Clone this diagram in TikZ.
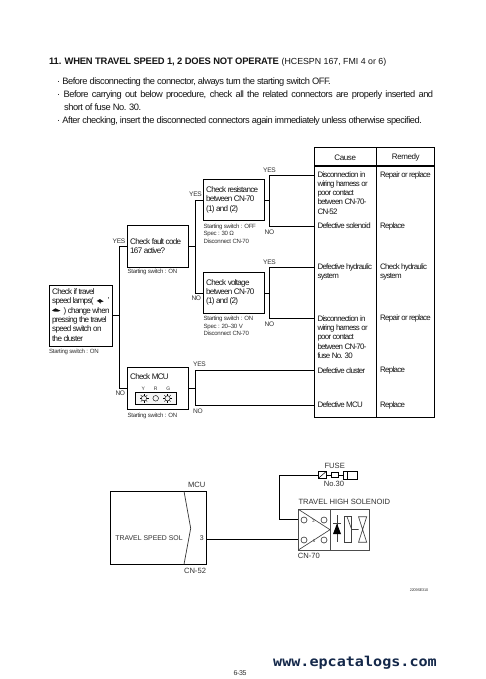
\documentclass[tikz,border=0pt]{standalone}
\usepackage{fontspec}
\setmainfont{Liberation Sans}
\newfontfamily\tightf[LetterSpace=-5]{Liberation Sans}
\newfontfamily\tighterf[LetterSpace=-9]{Liberation Sans}
\newfontfamily\headf[LetterSpace=-2]{Liberation Sans}
\newfontfamily\wwwf[FakeStretch=1.11]{DejaVu Sans Mono}
\definecolor{ink}{HTML}{141414}
\definecolor{soft}{HTML}{303030}
\definecolor{wwwc}{HTML}{14284A}
\tikzset{
  x=1pt,y=-1pt,
  flowbox/.style={draw=black,line width=0.8pt,fill=white},
  wire/.style={draw=black,line width=0.75pt},
  boxtext/.style={anchor=north west,inner sep=0pt,align=left,text=ink,font=\tighterf\fontsize{8.1}{9.4}\selectfont},
  small/.style={anchor=north west,inner sep=0pt,align=left,text=soft,font=\tightf\fontsize{6.1}{7.5}\selectfont},
  yn/.style={inner sep=0pt,text=soft,font=\tightf\fontsize{6.6}{7}\selectfont},
  cell/.style={anchor=north west,inner sep=0pt,align=left,text=ink,font=\tighterf\fontsize{7.9}{9.25}\selectfont},
  hdr/.style={inner sep=0pt,text=ink,font=\tightf\fontsize{8}{9}\selectfont},
  para/.style={anchor=west,inner sep=0pt,text=ink,font=\tightf\fontsize{9.3}{11}\selectfont},
  wlabel/.style={inner sep=0pt,text=soft,font=\fontsize{7.6}{9}\selectfont},
  gline/.style={draw=black!70,line width=0.8pt},
  sym/.style={draw=black!75,line width=0.65pt},
  lamp/.style={draw=black,line width=0.45pt},
}
\begin{document}
\begin{tikzpicture}
\useasboundingbox[fill=white] (0,0) rectangle (486,679);

% heading
\node[anchor=west,inner sep=0pt,text=ink] (title) at (49,61.7) {{\headf\bfseries\fontsize{9.4}{11}\selectfont 11. WHEN TRAVEL SPEED 1, 2 DOES NOT OPERATE} {\fontsize{8.8}{11}\selectfont (HCESPN 167, FMI 4 or 6)}};
\node[para] (p1) at (57,81.7) {· Before disconnecting the connector, always turn the starting switch OFF.};
\node[para] (p2) at (57,95) {\makebox[376pt][s]{· Before carrying out below procedure, check all the related connectors are properly inserted and}};
\node[para] (p3) at (64,107.3) {short of fuse No. 30.};
\node[para] (p4) at (57,121) {· After checking, insert the disconnected connectors again immediately unless otherwise specified.};

% table
\coordinate (tl) at (314.3,147.3);
\coordinate (tr) at (434.3,417.3);
\draw[flowbox,fill=none] (tl) rectangle (tr);
\draw[wire,line width=0.8pt] (376.3,147.3) -- (376.3,417.3);
\draw[draw=black,line width=1.5pt] (314.3,166) -- (434.3,166);
\node[hdr] (hcause) at (345.2,157.3) {Cause};
\node[hdr] (hrem) at (405.8,157.3) {Remedy};

% boxes
\node[flowbox,minimum width=62.7pt,minimum height=60.4pt,anchor=north west,inner sep=0pt] (start) at (49,285.3) {};
\node[flowbox,minimum width=60.4pt,minimum height=41.4pt,anchor=north west,inner sep=0pt] (fault) at (127.3,225.3) {};
\node[flowbox,minimum width=60.4pt,minimum height=42pt,anchor=north west,inner sep=0pt] (mcu) at (127.3,367.3) {};
\node[flowbox,minimum width=60.4pt,minimum height=41pt,anchor=north west,inner sep=0pt] (res) at (203.3,179.3) {};
\node[flowbox,minimum width=60.4pt,minimum height=41pt,anchor=north west,inner sep=0pt] (volt) at (203.3,272.3) {};

% connector coordinates
\coordinate (j1) at (119.5,315.5);
\coordinate (j1t) at (119.5,246.7);
\coordinate (j1b) at (119.5,388);
\coordinate (j2) at (195.3,246.7);
\coordinate (j2t) at (195.3,200.7);
\coordinate (j2b) at (195.3,293);
\coordinate (j3) at (195.3,388);
\coordinate (j3t) at (195.3,370);
\coordinate (j3b) at (195.3,405.7);
\coordinate (j4) at (269.3,200.7);
\coordinate (j4t) at (269.3,175);
\coordinate (j4b) at (269.3,226);
\coordinate (j5) at (269.3,293);
\coordinate (j5t) at (269.3,267.7);
\coordinate (j5b) at (269.3,318.3);
\coordinate (c1) at (314.3,175);
\coordinate (c2) at (314.3,226);
\coordinate (c3) at (314.3,267.7);
\coordinate (c4) at (314.3,318.3);
\coordinate (c5) at (314.3,370);
\coordinate (c6) at (314.3,405.7);

\draw[wire] (start.east |- j1) -- (j1);
\draw[wire] (fault.west |- j1t) -- (j1t) -- (j1b) -- (mcu.west |- j1b);
\draw[wire] (fault.east |- j2) -- (j2);
\draw[wire] (res.west |- j2t) -- (j2t) -- (j2b) -- (volt.west |- j2b);
\draw[wire] (mcu.east |- j3) -- (j3);
\draw[wire] (c5) -- (j3t) -- (j3b) -- (c6);
\draw[wire] (res.east |- j4) -- (j4);
\draw[wire] (c1) -- (j4t) -- (j4b) -- (c2);
\draw[wire] (volt.east |- j5) -- (j5);
\draw[wire] (c3) -- (j5t) -- (j5b) -- (c4);

% box text
\node[boxtext] (tstart) at (52,288) {Check if travel\\speed lamps(\\\\pressing the travel\\speed switch on\\the cluster};
\node[boxtext] (tstart2) at (63.5,307) {) change when};
\node[boxtext] (tfault) at (130,238) {Check fault code\\167 active?};
\node[boxtext] (tres) at (206,186.4) {Check resistance\\between CN-70\\(1) and (2)};
\node[boxtext] (tvolt) at (206,279) {Check voltage\\between CN-70\\(1) and (2)};
\node[boxtext] (tmcu) at (130,373) {Check MCU};
\node[boxtext] (comma) at (107.5,297.5) {,};

% lamps in text
\fill[ink] (96.7,301) -- (100,299) -- (102,300.5) -- (103.6,301.2) -- (102,302) -- (100.5,302) -- (100.5,303.6) -- (99,302) -- cycle;
\fill[ink] (52,310.5) -- (55.5,308.3) -- (58.5,309.8) -- (60.5,310.6) -- (58,311.6) -- (54.5,311.6) -- cycle;

% small notes
\node[small] (n1) at (49,348.4) {Starting switch : ON};
\node[small] (n2) at (127.5,268.9) {Starting switch : ON};
\node[small] (n3) at (203.5,223.7) {Starting switch : OFF\\Spec : 30 Ω\\Disconnect CN-70};
\node[small] (n4) at (203.5,316.3) {Starting switch : ON\\Spec : 20\textendash30 V\\Disconnect CN-70};
\node[small] (n5) at (127.5,412.7) {Starting switch : ON};

% YES / NO
\node[yn] (y1) at (119,241) {YES};
\node[yn] (y2) at (120.3,393) {NO};
\node[yn] (y3) at (195.5,194) {YES};
\node[yn] (y4) at (196.3,298) {NO};
\node[yn] (y5) at (269.5,170) {YES};
\node[yn] (y6) at (269.5,232.7) {NO};
\node[yn] (y7) at (269.5,262.3) {YES};
\node[yn] (y8) at (269.5,324) {NO};
\node[yn] (y9) at (199.5,364.3) {YES};
\node[yn] (y10) at (198,411) {NO};

% MCU lamps
\draw[lamp,fill=black!4] (135.3,392.7) rectangle (176.7,404);
\node[yn,font=\fontsize{5}{6}\selectfont] (ly) at (143.3,388.3) {Y};
\node[yn,font=\fontsize{5}{6}\selectfont] (lr) at (155.7,388.3) {R};
\node[yn,font=\fontsize{5}{6}\selectfont] (lg) at (168.3,388.3) {G};
\foreach \cx in {144,167.5}{
  \draw[lamp] (\cx,398.3) circle (2.6);
  \foreach \a in {0,45,...,315}{\draw[lamp,line width=0.35pt] (\cx,398.3) ++(\a:2.8) -- ++(\a:1.7);}
}
\draw[lamp] (155.7,398.3) circle (2.8);

% table text
\node[cell] (ca1) at (317.3,171.1) {Disconnection in\\wiring harness or\\poor contact\\between CN-70-\\CN-52};
\node[cell] (ca2) at (317.3,222.1) {Defective solenoid};
\node[cell] (ca3) at (317.3,263.1) {Defective hydraulic\\system};
\node[cell] (ca4) at (317.3,315.4) {Disconnection in\\wiring harness or\\poor contact\\between CN-70-\\fuse No. 30};
\node[cell] (ca5) at (317.3,367.1) {Defective cluster};
\node[cell] (ca6) at (317.3,401.1) {Defective MCU};
\node[cell] (re1) at (380,171.4) {Repair or replace};
\node[cell] (re2) at (380,222.1) {Replace};
\node[cell] (re3) at (380,263.1) {Check hydraulic\\system};
\node[cell] (re4) at (380,314.4) {Repair or replace};
\node[cell] (re5) at (380,366.4) {Replace};
\node[cell] (re6) at (380,401.4) {Replace};

% MCU block
\draw[flowbox,fill=none] (110.3,491.3) rectangle (206.7,564.3);
\draw[draw=black!80,line width=0.7pt] (184,491.3) -- (190.7,528.3) -- (184,564.3);
\node[wlabel,font=\fontsize{6.9}{8}\selectfont] (tsol) at (149,538.3) {TRAVEL SPEED SOL};
\node[wlabel,font=\fontsize{6.9}{8}\selectfont] (pin3) at (201.7,538.3) {3};
\node[wlabel] (lmcu) at (196.7,485.3) {MCU};
\node[wlabel] (l52) at (195,570.7) {CN-52};

% solenoid connector
\coordinate (s1) at (298.3,539.5);
\coordinate (s2) at (298.3,519);
\coordinate (bend) at (279.3,519);
\coordinate (bend2) at (279.3,475);
\coordinate (p3c) at (206.7,539.5);
\draw[gline] (298.3,509.3) rectangle (369.3,550);
\draw[gline] (330,509.3) -- (330,550);
\draw[sym] (298.3,509.3) -- (330,529.7) -- (298.3,550);
\foreach \cx/\cy in {304/520,324/520,304/540,324/540}{\draw[sym] (\cx,\cy) circle (3);}
\node[wlabel,font=\fontsize{4.5}{5}\selectfont] (pin2) at (313.5,520.5) {2};
\node[wlabel,font=\fontsize{4.5}{5}\selectfont] (pin1) at (314,540.5) {1};
\draw[wire] (p3c) -- (s1);
\draw[wire] (s2) -- (bend) -- (bend2) -- (318.3,475);
% fuse
\draw[wire,line width=0.7pt] (318.3,471.7) rectangle (326,478.3);
\draw[wire,line width=0.5pt] (318.3,478.3) -- (326,471.7);
\draw[wire,line width=0.6pt] (326,475) -- (331.7,475);
\draw[wire,line width=0.7pt] (331.7,472.7) rectangle (338.3,477);
\draw[wire,line width=0.6pt] (338.3,475) -- (343.3,475);
\draw[wire,line width=0.7pt] (343.3,471) rectangle (357.7,479.7);
\draw[wire,line width=0.7pt] (347.3,471) -- (347.3,479.7);
\node[wlabel] (lfuse) at (334.7,466) {FUSE};
\node[wlabel] (lno) at (334,484.3) {No.30};
\node[wlabel] (lhigh) at (344.3,502) {TRAVEL HIGH SOLENOID};
\node[wlabel,anchor=west] (l70) at (297.7,556) {CN-70};
% diode + coil + valve
\draw[sym] (337,515) -- (337,542);
\fill[black] (333,534) -- (341,534) -- (337,523.5) -- cycle;
\draw[sym,line width=0.8pt] (333,523.5) -- (341,523.5);
\draw[sym] (344,516.7) rectangle (351.7,542.3);
\draw[sym] (347,516.7) -- (351.7,529.5) -- (358.5,529.5);
\draw[sym] (358.5,516.7) -- (366.7,516.7) -- (358.5,542.3) -- (366.7,542.3) -- cycle;

% codes
\node[inner sep=0pt,text=soft,font=\tightf\fontsize{3.8}{4}\selectfont] (code) at (419,590) {2209SE310};
\node[anchor=west,inner sep=0pt,text=wwwc,font=\wwwf\bfseries\fontsize{13.6}{15}\selectfont] (www) at (273,663) {www.epcatalogs.com};
\node[inner sep=0pt,text=soft,font=\tightf\fontsize{7}{8}\selectfont] (page) at (240,673) {6-35};
\end{tikzpicture}
\end{document}
